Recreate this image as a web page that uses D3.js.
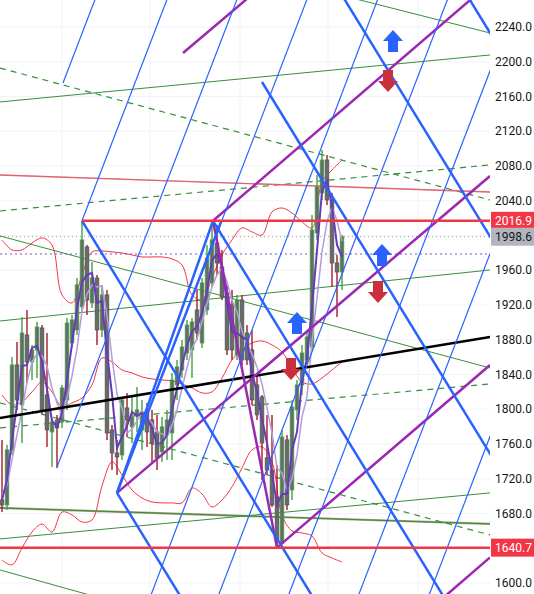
<!DOCTYPE html>
<html><head><meta charset="utf-8">
<script src="https://cdn.jsdelivr.net/npm/d3@7"></script>
<style>body{margin:0;background:#fff;} svg{display:block}</style>
</head><body><svg id="c" width="534" height="594"></svg>
<script>
// ---------- DATA ----------
// OHLC per bar [open, high, low, close]
const candles = [
[1695.6,1764.7,1681.7,1689.8],[1689.8,1758.9,1684.0,1753.2],[1753.2,1860.2,1747.4,1851.0],[1851.0,1877.5,1799.2,1810.7],
[1805.0,1906.3,1761.2,1887.8],[1885.5,1914.3,1830.3,1854.5],[1854.5,1874.0,1833.7,1868.3],[1868.3,1900.5,1836.0,1894.7],
[1893.6,1897.0,1793.5,1799.2],[1816.5,1887.8,1756.6,1776.2],[1773.9,1790.0,1733.6,1785.4],[1787.7,1793.5,1732.4,1778.5],
[1785.4,1828.0,1778.5,1824.5],[1810.7,1905.1,1799.2,1899.3],[1876.3,1908.6,1870.6,1902.8],[1891.3,1951.1,1885.5,1943.1],
[1917.8,2016.9,1912.0,1994.9],[1986.8,1989.1,1908.6,1925.8],[1922.4,1969.5,1916.6,1951.1],[1951.1,1954.6,1874.0,1891.3],
[1891.3,1943.1,1883.2,1931.6],[1931.6,1937.3,1764.7,1772.7],[1776.2,1782.0,1730.1,1749.7],[1749.7,1764.7,1724.4,1745.1],
[1747.4,1814.2,1741.7,1810.7],[1801.5,1818.8,1768.1,1787.7],[1779.7,1814.2,1761.2,1791.2],[1793.5,1825.7,1773.9,1799.2],
[1776.2,1810.7,1753.2,1796.9],[1796.9,1807.3,1756.6,1773.9],[1787.7,1799.2,1738.2,1761.2],[1773.9,1793.5,1730.1,1744.0],
[1750.9,1791.2,1739.4,1779.7],[1770.4,1799.2,1741.7,1787.7],[1772.7,1841.8,1741.7,1833.7],[1828.0,1856.8,1810.7,1848.7],
[1845.2,1879.8,1836.0,1871.7],[1864.8,1902.8,1856.8,1897.0],[1868.3,1905.1,1836.0,1900.5],[1914.3,1937.3,1879.8,1887.8],
[1876.3,1951.1,1870.6,1945.4],[1914.3,1989.1,1908.6,1974.1],[1945.4,2016.9,1940.8,1994.9],[1991.4,2012.0,1954.6,1968.4],
[1963.8,1983.4,1925.8,1929.3],[1933.9,1943.1,1862.5,1868.3],[1920.1,1937.3,1856.8,1868.3],[1862.5,1931.6,1856.8,1925.8],
[1925.8,1931.6,1851.0,1856.8],[1887.8,1897.0,1851.0,1856.8],[1868.3,1891.3,1805.0,1810.7],[1828.0,1839.5,1787.7,1793.5],
[1814.2,1816.5,1718.6,1761.2],[1744.0,1793.5,1724.4,1730.1],[1730.1,1793.5,1687.5,1689.8],[1699.0,1735.9,1640.7,1649.6],
[1646.1,1776.2,1643.8,1768.1],[1764.7,1770.4,1684.0,1689.8],[1707.1,1810.7,1695.6,1802.7],[1799.2,1833.7,1787.7,1828.0],
[1828.0,1874.0,1816.5,1864.8],[1856.8,1891.3,1851.0,1883.2],[1871.7,2023.6,1868.3,2006.4],[2002.9,2069.7,1994.9,2055.9],
[2049.0,2098.5,2040.9,2086.9],[2086.9,2092.7,2035.2,2040.9],[2040.9,2049.0,1940.8,1968.4],[1968.4,1977.6,1906.3,1958.0],
[1958.0,2000.6,1937.3,1998.6]
];
// fast (dark purple) and slow (light purple) averages, one value per bar
const maFast = [1695.6,1718.6,1764.7,1805.0,1849.8,1851.0,1870.6,1872.9,1854.5,1823.4,1786.5,1779.7,1795.7,1833.7,1875.2,1915.5,
1946.5,1954.6,1956.9,1922.4,1924.7,1864.8,1817.6,1755.5,1768.1,1780.8,1796.9,1792.3,1795.7,1790.0,1777.3,1760.1,1761.2,1770.4,
1800.4,1823.4,1851.0,1872.9,1890.1,1894.7,1910.9,1936.2,1971.8,1978.7,1963.8,1922.4,1889.0,1887.8,1883.2,1879.8,1841.8,1819.9,
1788.8,1761.2,1726.7,1689.8,1702.5,1702.5,1753.2,1773.9,1831.4,1859.0,1917.8,1982.2,2051.3,2062.8,2034.0,1989.1,1975.3];
const maSlow = [1701.3,1712.9,1741.7,1770.4,1799.2,1830.3,1854.5,1863.7,1861.4,1849.8,1824.5,1807.3,1792.3,1813.0,1838.3,1869.4,
1913.2,1932.7,1943.1,1940.8,1941.9,1908.6,1859.0,1817.6,1801.5,1772.7,1777.3,1786.5,1796.9,1790.0,1784.2,1773.9,1771.6,1769.3,
1780.8,1799.2,1824.5,1847.5,1870.6,1880.9,1900.5,1921.2,1940.8,1954.6,1962.6,1946.5,1925.8,1912.0,1890.1,1875.2,1863.7,1848.7,
1829.1,1801.5,1772.7,1732.4,1726.7,1705.9,1719.7,1747.4,1791.2,1814.2,1877.5,1928.1,1981.1,2015.6,2032.8,2016.7,1993.7];
// band values on every second bar (bar 0,2,4,...,68)
const bandUpper = [1994.9,1983.4,1983.4,1991.4,1997.2,1989.1,1931.6,1922.4,1954.6,1981.1,1982.2,1981.1,1979.9,1977.6,1975.3,1975.3,
1975.3,1973.0,1966.1,1931.6,1925.8,1951.1,1977.6,1994.9,2008.7,2004.1,2000.6,2027.1,2031.7,2025.9,2015.6,2008.7,2061.6,2075.4,2086.9];
const bandMid = [1816.5,1805.0,1808.4,1819.9,1831.4,1819.9,1802.7,1807.3,1813.0,1828.0,1859.0,1854.5,1845.2,1841.8,1837.2,1834.9,
1833.7,1832.6,1829.1,1824.5,1818.8,1819.9,1836.0,1856.8,1868.3,1876.3,1878.6,1874.0,1865.9,1847.5,1831.4,1829.1,1836.0,1845.2,1854.5];
const bandLower = [1626.5,1620.8,1640.3,1658.7,1667.9,1658.7,1681.7,1678.3,1670.2,1672.6,1711.7,1739.4,1724.4,1707.1,1697.9,1693.3,
1692.2,1692.2,1692.2,1709.4,1702.5,1687.5,1695.6,1710.6,1732.4,1753.2,1756.6,1739.4,1678.3,1659.9,1657.6,1654.2,1634.6,1628.8,1624.2];

const priceTicks = [1600,1680,1720,1760,1800,1840,1880,1920,1960,2040,2080,2120,2160,2200,2240];
const gridPrices = [1600,1640,1680,1720,1760,1800,1840,1880,1920,1960,2000,2040,2080,2120,2160,2200,2240];
const timeGrid = [12, 29.6, 47.6, 65.2, 83.2];
const lastPrice = 1998.6;
const levelPrices = [2016.9, 1640.7];
const levelStarts = [16, -1];
const purpleDotted = 1978.7;

// drawing tools: [bar1, price1, bar2, price2]
const greenSolid = [[-0.4,2153.7,97.6,2207.8],[60,2288.0,97.6,2233.1],[-0.4,1999.5,97.6,1847.5],[-0.4,1901.6,97.6,1960.3],
  [-0.4,1650.7,97.6,1703.7],[-0.4,1615.0,97.6,1457.4],[-0.4,1686.4,97.6,1668.0]];
const greenFaint = [[-0.4,2069.7,97.6,2050.1]];
const greenDashed = [[-0.4,2192.8,97.6,2040.9],[-0.4,2028.2,97.6,2081.2],[-0.4,1778.5,97.6,1829.1],[-0.4,1807.3,97.6,1655.3]];
const redThin = [[-0.4,2069.7,97.6,2050.1]];
const tanLine = [[-0.4,1686.4,97.6,1668.0]];
const blackLine = [[-0.4,1790.0,97.6,1883.2]];
const purpleThick = [[36.2,2210.1,59.6,2324.0],[42.2,2016.9,97.6,2290.7],[23,1703.7,97.6,2068.5],[55,1640.7,97.6,1850.9],
  [83.1,1557.5,97.6,1629.4],[42.2,2016.9,55,1640.7]];
const blueThin = [[12.2,2175.6,22.4,2328.6],[16,2016.9,36.8,2328.6],[11,1733.6,50.8,2328.6],[23,1703.7,64.8,2328.6],
  [27.9,1557.5,78.9,2328.6],[41.4,1557.5,92.9,2328.6],[55.4,1557.5,106.9,2328.6],[69.4,1557.5,121,2328.6],[83.5,1557.5,135,2328.6]];
const blueThick = [[16,2016.9,68.8,1521.6],[23,1703.7,42.3,1522.7],[42.2,2016.9,94.9,1522.6],[52,2176.7,103.6,1692.7],
  [64.9,2305.6,103.6,1942.6],[89.9,2305.6,103.6,2177.1],[23,1703.7,42.2,2016.9],[23,1703.7,43.9,2016.9]];
const upArrows = [[78.2,2236.6],[76,1990.3],[59,1912.0]];
const downArrows = [[77.2,2165.2],[75.2,1922.4],[57.8,1833.7]];

// ---------- CHART ----------
const W = 534, H = 594, plotR = 490;
const svg = d3.select('#c');
const x = d3.scaleLinear().domain([0, 97.6]).range([2, plotR]);
const y = d3.scaleLinear().domain([1600, 2240]).range([583, 27]);

svg.append('defs').append('clipPath').attr('id','clip')
  .append('rect').attr('x',0).attr('y',0).attr('width',plotR).attr('height',H);
const plot = svg.append('g').attr('clip-path','url(#clip)');

// grid
plot.selectAll('.hg').data(gridPrices).enter().append('line')
  .attr('x1',0).attr('x2',plotR).attr('y1',d=>y(d)).attr('y2',d=>y(d))
  .attr('stroke','#f0f3fa').attr('stroke-width',1);
plot.selectAll('.vg').data(timeGrid).enter().append('line')
  .attr('x1',d=>x(d)).attr('x2',d=>x(d)).attr('y1',0).attr('y2',H)
  .attr('stroke','#f0f3fa').attr('stroke-width',1);

const seg = (g, data, color, width, dash, op) => g.selectAll(null).data(data).enter().append('line')
  .attr('x1',d=>x(d[0])).attr('y1',d=>y(d[1])).attr('x2',d=>x(d[2])).attr('y2',d=>y(d[3]))
  .attr('stroke',color).attr('stroke-width',width).attr('stroke-dasharray',dash||null)
  .attr('stroke-opacity',op||1).attr('stroke-linecap','butt');

// bands
const bandIdx = bandUpper.map((_,k)=>k*2);
const bl = d3.line().x((d,k)=>x(bandIdx[k])).y(d=>y(d)).curve(d3.curveCatmullRom);
[bandUpper, bandMid, bandLower].forEach(b => plot.append('path').attr('d', bl(b))
  .attr('fill','none').attr('stroke','#f23645').attr('stroke-width',1));

// level lines
plot.append('line').attr('x1',0).attr('x2',plotR).attr('y1',y(lastPrice)).attr('y2',y(lastPrice))
  .attr('stroke','#9598a1').attr('stroke-dasharray','1,3');
plot.append('line').attr('x1',0).attr('x2',plotR).attr('y1',y(purpleDotted)).attr('y2',y(purpleDotted))
  .attr('stroke','#7e57c2').attr('stroke-dasharray','2,3');

// green / misc trend lines
seg(plot, tanLine, '#a0936f', 2.2, null, 0.9);
seg(plot, greenSolid, '#388e3c', 1);
seg(plot, greenFaint, '#388e3c', 1, null, 0.5);
seg(plot, greenDashed, '#388e3c', 1.2, '6,5');
seg(plot, redThin, '#f0506a', 1.4, null, 0.85);

// candles
const cg = plot.append('g');
candles.forEach((c,i) => {
  const up = c[3] >= c[0];
  const cx = x(i);
  cg.append('line').attr('x1',cx).attr('x2',cx).attr('y1',y(c[1])).attr('y2',y(c[2]))
    .attr('stroke', up ? '#43a047' : '#a31b2a').attr('stroke-width',1.4);
  const top = y(Math.max(c[0],c[3])), bot = y(Math.min(c[0],c[3]));
  cg.append('rect').attr('x',cx-1.8).attr('width',3.6).attr('y',top).attr('height',Math.max(1,bot-top))
    .attr('fill','#686c68').attr('stroke', up ? '#43a047' : '#555').attr('stroke-width',0.8);
});

// moving averages
const ml = d3.line().x((d,i)=>x(i)).y(d=>y(d));
plot.append('path').attr('d', ml(maSlow)).attr('fill','none').attr('stroke','#b39ddb').attr('stroke-width',1.5);
plot.append('path').attr('d', ml(maFast)).attr('fill','none').attr('stroke','#673ab7').attr('stroke-width',2);

// black, purple, blue drawings
seg(plot, blackLine, '#000', 2.5);
seg(plot, purpleThick, '#9c27b0', 2.5);
seg(plot, blueThin, '#2962ff', 1.2);
seg(plot, blueThick, '#2962ff', 2.5);

// red horizontal levels
plot.selectAll(null).data(levelPrices).enter().append('line')
  .attr('x1',(d,k)=>x(levelStarts[k])).attr('x2',plotR).attr('y1',d=>y(d)).attr('y2',d=>y(d))
  .attr('stroke','#f23645').attr('stroke-width',2.5);

// arrows
const upPath = 'M0,0 L10,11 L5,11 L5,22 L-5,22 L-5,11 L-10,11 Z';
const downPath = 'M0,0 L10,-11 L5,-11 L5,-22 L-5,-22 L-5,-11 L-10,-11 Z';
plot.selectAll(null).data(upArrows).enter().append('path').attr('d',upPath)
  .attr('transform',d=>`translate(${x(d[0])},${y(d[1])})`).attr('fill','#2962ff');
plot.selectAll(null).data(downArrows).enter().append('path').attr('d',downPath)
  .attr('transform',d=>`translate(${x(d[0])},${y(d[1])})`).attr('fill','#cc2f3c');

// price axis
const font = 'Roboto, "Liberation Sans", Arial, sans-serif';
svg.selectAll(null).data(priceTicks).enter().append('text')
  .attr('x',532).attr('y',d=>y(d)).attr('dy','0.35em').attr('text-anchor','end')
  .attr('font-family',font).attr('font-size',12).attr('fill','#131722')
  .text(d=>d3.format('.1f')(d));

const boxes = [[levelPrices[0],'#f23645','#fff'],[lastPrice,'#b2b5be','#131722'],[levelPrices[1],'#f23645','#fff']];
boxes.forEach(b => {
  const g = svg.append('g');
  g.append('rect').attr('x',491).attr('y',y(b[0])-9).attr('width',43).attr('height',18).attr('fill',b[1]);
  g.append('text').attr('x',532).attr('y',y(b[0])).attr('dy','0.35em').attr('text-anchor','end')
    .attr('font-family',font).attr('font-size',12).attr('fill',b[2]).text(d3.format('.1f')(b[0]));
});
</script></body></html>
